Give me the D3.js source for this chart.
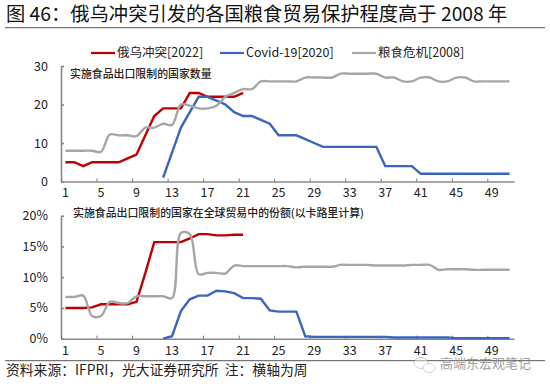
<!Doctype html>
<html>
<head>
<meta charset="utf-8">
<title>粮食贸易保护程度</title>
<script src="https://cdn.jsdelivr.net/npm/d3@7"></script>
<style>
  body{margin:0;background:#fff;}
  svg text{font-family:"Noto Sans CJK SC","Noto Sans",sans-serif;}
  .ax text{font-size:12.5px;fill:#222;}
  .ax line,.ax path{stroke:#888;stroke-width:1.6;}
  .ticks line{stroke-width:1;stroke:#777;}
</style>
</head>
<body>
<div id="container"></div>
<script>
var weeks = d3.range(1,52);
var tickWeeks = d3.range(1,52,4);

// weekly values
var warCount = [5,5,4,5,5,5,5,6,7,12,17,19,19,19,23,23,22,22,22,22,23];
var covidCount = [1,7.5,14,18,22,22,21,20,18,17,17,16,15,12,12,12,11,10,9,9,9,9,9,9,9,4,4,4,4,2,2,2,2,2,2,2,2,2,2,2];
var crisisCount = [8,8,8,8,7.7,12.2,12,12,11.8,14,14,15,14.7,20,19.7,19,19,19.7,22,23,24,24,26,26,26,26,26,27,27,27,27,28,28,28,28,28,27,27,26,26,27,27,26,26,27,27,26,26,26,26,26];

var warShare = [5,5,5,5.1,5.6,5.6,5.6,5.6,6,10.7,15.7,15.7,15.7,15.7,16.3,17,17,16.8,16.8,16.9,16.9];
var covidShare = [0,0.4,4.5,6.4,7,7,7.8,7.7,7.4,6.6,6.6,6.5,4.6,4.4,4.4,4.4,0.4,0.3,0.3,0.3,0.3,0.3,0.3,0.3,0.3,0.3,0.2,0.2,0.2,0.2,0.2,0.2,0.2,0.1,0.1,0.1,0.1,0.1,0.1,0.1];
var crisisShare = [6.8,6.8,7,3.7,3.7,6,5.8,5.8,6.9,6.9,6.9,6.9,6.6,17.2,17,10.5,10.7,10.7,10.6,11.9,11.8,11.8,11.8,11.8,11.8,11.8,11.6,11.7,11.7,11.7,11.7,12,12,12,12,11.9,11.9,11.9,11.9,12,12,12,11.2,11.3,11.3,11.3,11.2,11.2,11.2,11.2,11.2];

var covidStart = 12; // covid series begins in week 12

var legendNames = ["俄乌冲突[2022]","Covid-19[2020]","粮食危机[2008]"];
var colors = ["#c00000","#3a66bd","#a6a6a6"];

var svg = d3.select("#container").append("svg").attr("width",550).attr("height",387);

var xScale = d3.scaleBand().domain(weeks).range([61,514]);
var xEdge = d3.scaleLinear().domain([0,51]).range([61,514]);

function seriesOf(vals,start){
  return vals.map(function(v,i){return {w:i+start,v:v};});
}

function drawPlot(top,bottom,yMax,yStep,fmt,war,covid,crisis){
  var yScale = d3.scaleLinear().domain([0,yMax]).range([bottom,top]);

  svg.append("g").attr("class","ax").attr("transform","translate(61,0)")
    .call(d3.axisLeft(yScale).tickValues(d3.range(0,yMax+1,yStep)).tickFormat(fmt).tickSizeInner(-3).tickSizeOuter(0).tickPadding(13));
  svg.append("g").attr("class","ax ticks").attr("transform","translate(0,"+bottom+")")
    .call(d3.axisBottom(xEdge).tickValues(d3.range(0,49,4)).tickFormat("").tickSizeInner(-3).tickSizeOuter(0));
  var labels = svg.append("g").attr("class","ax").attr("transform","translate(0,"+bottom+")")
    .call(d3.axisBottom(xScale).tickValues(tickWeeks).tickSize(0).tickPadding(7));
  labels.select(".domain").remove();

  var line = d3.line()
    .x(function(d){return xScale(d.w)+xScale.bandwidth()/2;})
    .y(function(d){return yScale(d.v);});
  var smooth = d3.line().curve(d3.curveCatmullRom.alpha(0.5))
    .x(function(d){return xScale(d.w)+xScale.bandwidth()/2;})
    .y(function(d){return yScale(d.v);});

  svg.append("path").attr("d",line(seriesOf(war,1))).attr("fill","none")
    .attr("stroke",colors[0]).attr("stroke-width",2.4);
  svg.append("path").attr("d",line(seriesOf(covid,covidStart))).attr("fill","none")
    .attr("stroke",colors[1]).attr("stroke-width",2.4);
  svg.append("path").attr("d",smooth(seriesOf(crisis,1))).attr("fill","none")
    .attr("stroke",colors[2]).attr("stroke-width",2.4);
}

drawPlot(66,181.5,30,10,function(d){return d;},warCount,covidCount,crisisCount);
drawPlot(215.7,338.7,20,5,function(d){return d+"%";},warShare,covidShare,crisisShare);

// title and rules
svg.append("text").attr("x",6).attr("y",21).attr("font-size",19.3).attr("fill","#111")
  .text("图 46：俄乌冲突引发的各国粮食贸易保护程度高于 2008 年");
svg.append("line").attr("x1",5).attr("x2",545).attr("y1",27.7).attr("y2",27.7).attr("stroke","#555").attr("stroke-width",1);
svg.append("line").attr("x1",5).attr("x2",545).attr("y1",360.7).attr("y2",360.7).attr("stroke","#555").attr("stroke-width",1);

// legend
var legendX = [91,220,352];
legendNames.forEach(function(n,i){
  svg.append("line").attr("x1",legendX[i]).attr("x2",legendX[i]+24).attr("y1",53).attr("y2",53)
    .attr("stroke",colors[i]).attr("stroke-width",2.2);
  svg.append("text").attr("x",legendX[i]+26).attr("y",57).attr("font-size",12.5).attr("fill","#222").text(n);
});

// plot notes
svg.append("text").attr("x",70).attr("y",78).attr("font-size",10.9).attr("font-weight",500).attr("fill","#222").text("实施食品出口限制的国家数量");
svg.append("text").attr("x",73).attr("y",217).attr("font-size",10.9).attr("font-weight",500).attr("fill","#222").text("实施食品出口限制的国家在全球贸易中的份额(以卡路里计算)");

// source
svg.append("text").attr("x",6).attr("y",375).attr("font-size",13.8).attr("fill","#222").text("资料来源：IFPRI，光大证券研究所\u00a0\u00a0注：横轴为周");

// watermark
var wm = svg.append("g").attr("opacity",0.45);
wm.append("ellipse").attr("cx",421).attr("cy",363).attr("rx",7).attr("ry",5.5).attr("fill","#fff").attr("stroke","#999");
wm.append("ellipse").attr("cx",429).attr("cy",368).attr("rx",6).attr("ry",4.5).attr("fill","#fff").attr("stroke","#999");
svg.append("text").attr("x",440).attr("y",368).attr("font-size",13).attr("fill","#888").attr("opacity",0.8).text("高端东宏观笔记");
</script>
</body>
</html>
